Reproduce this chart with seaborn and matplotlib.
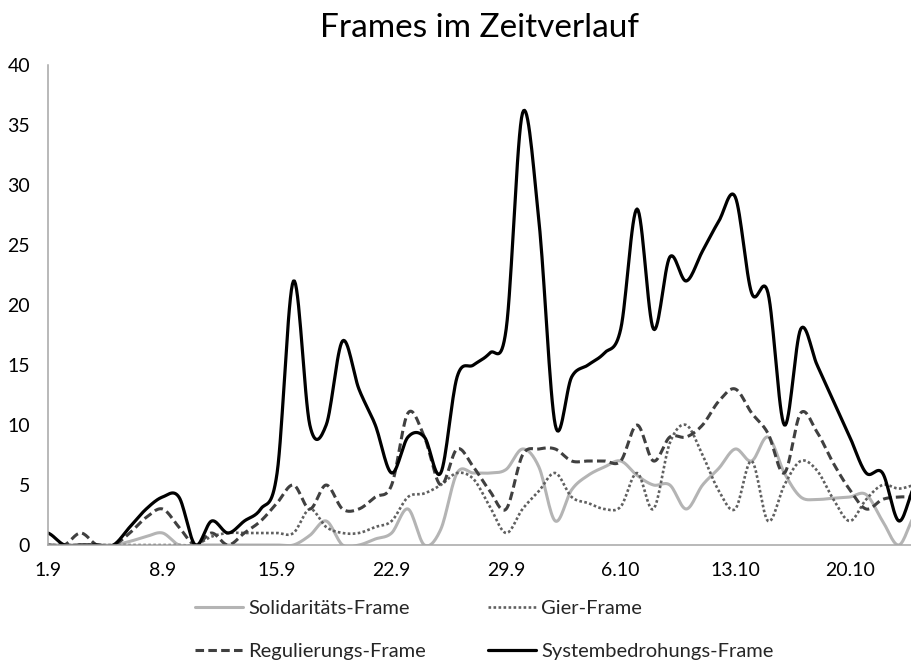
import numpy as np
import pandas as pd
import matplotlib
matplotlib.use("Agg")
import matplotlib.pyplot as plt
import seaborn as sns

# daily counts, day 0 = 1.9.
solidaritaet = [0, 0, 0, 0, 0, 0.3, 0.7, 1, 0, 0,
                0, 0, 0, 0, 0, 0, 0.8, 2, 0, 0,
                0.5, 1, 3, 0, 1.3, 6, 6, 6, 6.3, 8,
                6.5, 2, 4.6, 5.8, 6.5, 7, 5.8, 5, 5, 3,
                5, 6.4, 8, 7, 9, 6, 4, 3.8, 3.9, 4,
                4.2, 2, 0, 2.5]
gier = [0, 0, 0, 0, 0, 0, 0, 0, 0, 0,
        0.7, 1, 1, 1, 1, 1, 3, 1.5, 1, 1,
        1.5, 2, 4, 4.3, 5, 6, 5.5, 3.2, 1, 3,
        4.5, 6, 4, 3.5, 3, 3.2, 6, 3, 8.5, 10,
        7.5, 4.5, 3, 7, 2, 5, 7, 6.2, 3.8, 2,
        3.8, 5, 4.7, 5]
regulierung = [0, 0, 1, 0, 0, 1, 2.3, 3, 1.5, 0,
               1, 0, 1, 2, 3.5, 5, 3, 5, 3, 3,
               4, 5, 11, 9, 5, 8, 6.5, 4.5, 3, 7.5,
               8, 8, 7, 7, 7, 7, 10, 7, 9, 9,
               10, 12, 13, 11, 9.3, 6, 11, 9.4, 6.8, 4.6,
               3, 3.8, 4, 4]
systembedrohung = [1, 0, 0, 0, 0, 1.5, 3, 4, 4, 0,
                   2, 1, 2, 3, 6, 22, 10, 10, 17, 13,
                   10, 6, 9, 9, 6, 14, 15, 16, 18, 36,
                   27, 10, 14, 15, 16, 18, 28, 18, 24, 22,
                   24.5, 27, 29, 21, 21, 10, 18, 15, 12, 9,
                   6, 6, 2, 5]

tick_days = [0, 7, 14, 21, 28, 35, 42, 49]
tick_labels = ["1.9", "8.9", "15.9", "22.9", "29.9", "6.10", "13.10", "20.10"]


def smooth(vals, n=16):
    # excel-like smoothed line (bezier through the points)
    y = np.asarray(vals, float)
    p = np.concatenate([[y[0]], y, [y[-1]]])
    t = np.linspace(0, 1, n, endpoint=False)
    xs, ys = [], []
    for i in range(len(y) - 1):
        p0, p1, p2, p3 = p[i], p[i + 1], p[i + 2], p[i + 3]
        c1 = p1 + (p2 - p0) / 6
        c2 = p2 - (p3 - p1) / 6
        b = (1 - t) ** 3 * p1 + 3 * (1 - t) ** 2 * t * c1 + 3 * (1 - t) * t ** 2 * c2 + t ** 3 * p2
        xs.append(i + t)
        ys.append(b)
    xs.append([len(y) - 1])
    ys.append([y[-1]])
    return pd.DataFrame({"day": np.concatenate(xs), "value": np.concatenate(ys)})


sns.set_style("white")
plt.rcParams["font.family"] = ["Lato", "DejaVu Sans"]

fig = plt.figure(figsize=(9.12, 6.68), dpi=100)
ax = fig.add_axes([48 / 912, 123 / 668, 864 / 912, 480 / 668])

series = [
    ("Solidaritäts-Frame", solidaritaet, "#b4b4b4", "-", 2.2),
    ("Gier-Frame", gier, "#606060", (0, (1, 0.9)), 1.9),
    ("Regulierungs-Frame", regulierung, "#404040", (0, (2.8, 1.4)), 2.2),
    ("Systembedrohungs-Frame", systembedrohung, "#000000", "-", 2.3),
]
handles = {}
for name, vals, col, ls, lw in series:
    df = smooth(vals)
    sns.lineplot(data=df, x="day", y="value", ax=ax, color=col, linewidth=lw,
                 linestyle=ls, label=name, legend=False)
    handles[name] = ax.lines[-1]

ax.set_xlim(0, 52.8)
ax.set_ylim(0, 40)
ax.set_yticks(range(0, 41, 5))
ax.set_xticks(tick_days)
ax.set_xticklabels(tick_labels)
ax.set_xlabel("")
ax.set_ylabel("")
ax.tick_params(axis="both", length=0, labelsize=14, colors="#000000")
ax.tick_params(axis="x", pad=12)
ax.tick_params(axis="y", pad=13)
for s in ["top", "right"]:
    ax.spines[s].set_visible(False)
for s in ["left", "bottom"]:
    ax.spines[s].set_color("#a6a6a6")
    ax.spines[s].set_linewidth(1.1)

fig.text(0.526, 1 - 28 / 668, "Frames im Zeitverlauf", ha="center", va="center",
         fontsize=24, color="#000000")

order = ["Solidaritäts-Frame", "Regulierungs-Frame", "Gier-Frame", "Systembedrohungs-Frame"]
fig.legend([handles[k] for k in order], order, loc="center", ncol=2,
           bbox_to_anchor=(0.531, 0.057), frameon=False, fontsize=14.5,
           handlelength=2.4, handletextpad=0.25, columnspacing=3.05, labelspacing=1.3)

fig.savefig("out.png", dpi=100)
